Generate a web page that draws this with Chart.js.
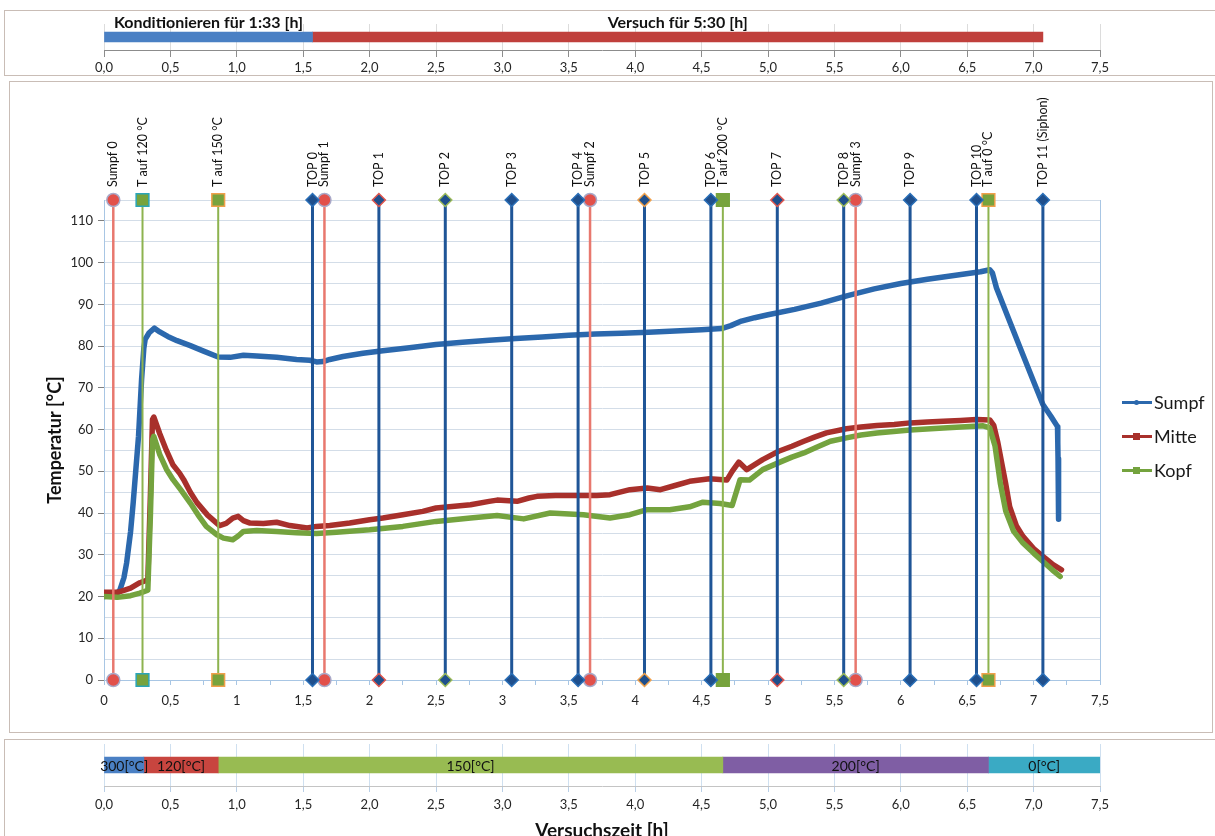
<!DOCTYPE html>
<html><head><meta charset="utf-8">
<script src="https://cdn.jsdelivr.net/npm/chart.js@4.4.1/dist/chart.umd.min.js"></script>
<style>
html,body{margin:0;padding:0;background:#fff;overflow:hidden;width:1215px;height:836px;}
.panel{position:absolute;border:1px solid #c9bdb6;background:#fff;overflow:hidden;}
canvas{display:block;}
#legend{position:absolute;left:1122px;top:390px;font-family:Lato,'Open Sans',sans-serif;font-size:18px;color:#1a1a1a;}
.li{position:relative;height:34px;width:90px;}
.li .ln{position:absolute;left:0;top:11px;width:30px;height:3px;}
.li .mk{position:absolute;left:11px;top:9px;width:7px;height:7px;}
.li span{position:absolute;left:32px;top:0;line-height:24px;}
</style></head>
<body>
<div class="panel" style="left:4px;top:10px;width:1220px;height:64px;"><canvas id="topC" width="1220" height="64"></canvas></div>
<div class="panel" style="left:9px;top:81px;width:1202px;height:650px;"><canvas id="mainC" width="1202" height="650"></canvas></div>
<div class="panel" style="left:4px;top:739px;width:1220px;height:110px;"><canvas id="botC" width="1220" height="110"></canvas></div>
<div id="legend"></div>
<script>
// ---------- DATA ----------
const phaseLabels = ['Konditionieren für 1:33 [h]', 'Versuch für 5:30 [h]'];
const phaseStart = [0, 1.57];
const phaseEnd = [1.57, 7.07];

const stageLabels = ['300[°C]', '120[°C]', '150[°C]', '200[°C]', '0[°C]'];
const stageStart = [0, 0.3, 0.86, 4.66, 6.66];
const stageEnd = [0.3, 0.86, 4.66, 6.66, 7.5];

const markerLabels = ['Sumpf 0','T auf 120 °C','T auf 150 °C','TOP 0','Sumpf 1','TOP 1','TOP 2','TOP 3','TOP 4','Sumpf 2','TOP 5','TOP 6','T auf 200 °C','TOP 7','TOP 8','Sumpf 3','TOP 9','TOP 10','T auf 0 °C','TOP 11 (Siphon)'];
const markerTimes = [0.07, 0.29, 0.86, 1.57, 1.66, 2.07, 2.57, 3.07, 3.57, 3.66, 4.07, 4.57, 4.66, 5.07, 5.57, 5.66, 6.07, 6.57, 6.66, 7.07];
const markerRange = [0, 115];

const sumpfTime = [0,0.05,0.1,0.12,0.15,0.17,0.2,0.22,0.24,0.26,0.283,0.3,0.31,0.34,0.38,0.42,0.48,0.55,0.65,0.75,0.86,0.95,1.05,1.15,1.3,1.45,1.55,1.6,1.65,1.7,1.8,1.95,2.1,2.3,2.5,2.7,2.9,3.1,3.3,3.5,3.7,3.9,4.1,4.3,4.5,4.65,4.72,4.8,4.9,5.0,5.2,5.4,5.6,5.8,6.0,6.2,6.4,6.6,6.67,6.69,6.72,6.8,6.9,7.0,7.07,7.13,7.18,7.182,7.184,7.186,7.188,7.19];
const sumpfTemp = [20,20.2,20.8,21.6,24.5,28,35.5,42.5,50.5,58.4,72,79.5,81.6,83.2,84.3,83.4,82.3,81.3,80.1,78.8,77.4,77.3,77.8,77.6,77.3,76.8,76.6,76.2,76.3,76.8,77.5,78.3,78.9,79.6,80.4,80.9,81.4,81.8,82.2,82.6,82.9,83.1,83.3,83.6,83.9,84.2,84.9,86.0,86.8,87.5,88.8,90.3,92.1,93.7,95.0,96.0,96.9,97.8,98.3,97.5,94.0,87.5,79.5,71.5,66.0,63.2,60.7,57,53,48.5,43,38.5];

const mitteTime = [0,0.1,0.15,0.2,0.27,0.33,0.35,0.365,0.375,0.42,0.47,0.52,0.57,0.6,0.65,0.7,0.78,0.87,0.92,0.97,1.01,1.05,1.1,1.2,1.3,1.4,1.53,1.6,1.7,1.85,2.0,2.1,2.25,2.4,2.5,2.6,2.76,2.9,2.96,3.11,3.2,3.26,3.4,3.51,3.71,3.81,3.96,4.09,4.19,4.3,4.41,4.56,4.69,4.73,4.78,4.84,4.96,5.08,5.18,5.27,5.35,5.44,5.59,5.7,5.82,5.95,6.07,6.2,6.32,6.45,6.57,6.67,6.7,6.73,6.76,6.79,6.82,6.87,6.92,7.0,7.07,7.14,7.21];
const mitteTemp = [21,21,21.5,22,23.3,24,45,62.4,63,59,55,51.5,49.5,48,45,42.5,39.5,37,37.5,38.8,39.2,38.2,37.6,37.5,37.8,37.0,36.4,36.8,37.0,37.6,38.4,38.8,39.6,40.4,41.2,41.5,42.0,42.8,43.1,42.8,43.6,44.0,44.2,44.2,44.2,44.4,45.6,46.0,45.6,46.6,47.6,48.2,47.9,50,52.2,50.4,52.8,54.8,56,57.2,58.2,59.2,60.2,60.6,61.0,61.2,61.6,61.8,62.0,62.2,62.4,62.3,61,57,52,47,41.5,37,34.4,31.5,29.6,27.8,26.4];

const kopfTime = [0,0.1,0.2,0.27,0.33,0.35,0.365,0.375,0.42,0.47,0.52,0.58,0.65,0.72,0.77,0.85,0.9,0.97,1.01,1.05,1.15,1.3,1.45,1.6,1.75,2.0,2.25,2.5,2.76,2.96,3.16,3.36,3.61,3.81,3.96,4.09,4.26,4.41,4.51,4.64,4.73,4.79,4.86,4.96,5.09,5.18,5.27,5.37,5.47,5.59,5.7,5.82,6.07,6.32,6.62,6.67,6.71,6.75,6.79,6.85,6.92,7.0,7.07,7.14,7.2];
const kopfTemp = [20,19.8,20.2,20.8,21.5,40,57.5,58.4,54,50.5,48,45.5,42.4,39,36.8,34.8,34,33.6,34.5,35.6,35.8,35.6,35.3,35.1,35.4,36.0,36.8,38.0,38.8,39.4,38.6,40.0,39.6,38.8,39.6,40.8,40.8,41.5,42.6,42.3,41.8,48.0,47.9,50.4,52.2,53.4,54.4,55.8,57.2,58.0,58.7,59.2,59.9,60.4,60.9,60.4,56,47,40.5,35.6,32.8,30.4,28.4,26.4,24.8];

const seriesNames = ['Sumpf', 'Mitte', 'Kopf'];

// ---------- STYLES ----------
const FONT = "Lato, 'Open Sans', sans-serif";
Chart.defaults.font.family = FONT;
Chart.defaults.color = '#262626';
const seriesColors = {Sumpf:'#2b68ad', Mitte:'#a8302b', Kopf:'#74a33e'};
const phaseColors = ['#4a80c4', '#c0403c'];
const stageColors = ['#4a80c4', '#c8453f', '#98bb52', '#7f5ea4', '#3aaac4'];
const kindStyle = {
  sumpf: {line:'#e8786e', lw:2.5, shape:'circle', r:6.5, fill:'#e2504a', edge:'#a9a9c9'},
  t:     {line:'#8db34f', lw:2,   shape:'rect',   r:9,   fill:'#77a33d', edge:'#77a33d'},
  top:   {line:'#1f5597', lw:3,   shape:'rectRot',r:6.5, fill:'#1f4f8c', edge:'#2a6fb8'}
};
const edgeOverride = {'TOP 1':'#e0554d','TOP 2':'#9bbb59','TOP 5':'#f0a04a','TOP 7':'#e0554d','TOP 8':'#9bbb59','T auf 120 °C':'#2aa5b8','T auf 150 °C':'#f0a04a','T auf 0 °C':'#f0a04a'};
function kindOf(l){ return l.startsWith('Sumpf') ? 'sumpf' : (l.startsWith('TOP') ? 'top' : 't'); }
const fmt1 = v => v.toFixed(1).replace('.', ',');

// ---------- TOP CHART ----------
function barLabelPlugin(mode) {
  return { id: 'barLabels_' + mode, afterDatasetsDraw(chart) {
    const ctx = chart.ctx; ctx.save();
    ctx.fillStyle = '#111'; ctx.textAlign = 'center';
    chart.data.datasets.forEach((ds, i) => {
      const el = chart.getDatasetMeta(i).data[0];
      const cx = (el.x + el.base) / 2;
      if (mode === 'above') {
        ctx.font = 'bold 16px ' + FONT; ctx.textBaseline = 'bottom';
        ctx.fillText(ds.label, cx, el.y - el.height / 2 - 1);
      } else {
        ctx.font = '14px ' + FONT; ctx.textBaseline = 'middle';
        ctx.fillText(ds.label, cx, el.y + 1);
      }
    });
    ctx.restore();
  }};
}

new Chart(document.getElementById('topC'), {
  type: 'bar',
  data: { labels: [''], datasets: phaseLabels.map((l, i) => ({
    label: l, data: [[phaseStart[i], phaseEnd[i]]], backgroundColor: phaseColors[i], barThickness: 10, grouped: false
  }))},
  options: {
    indexAxis: 'y', animation: false, responsive: false,
    layout: { padding: { left: 99, right: 125, top: 13, bottom: 0 } },
    plugins: { legend: { display: false }, tooltip: { enabled: false } },
    scales: {
      x: { type: 'linear', min: 0, max: 7.5,
        ticks: { stepSize: 0.5, autoSkip: false, maxRotation: 0, padding: 3, font: { size: 13 }, color: '#262626', callback: v => fmt1(v) },
        grid: { color: '#dcdcdc', tickColor: '#8c8c8c', tickLength: 7 },
        border: { color: '#8c8c8c' },
        afterFit: s => { s.height = 25; } },
      y: { display: false }
    }
  },
  plugins: [barLabelPlugin('above')]
});

// ---------- MAIN CHART ----------
const markerLabelPlugin = { id: 'markerLabels', afterDatasetsDraw(chart) {
  const ctx = chart.ctx, xs = chart.scales.x, ys = chart.scales.y;
  ctx.save();
  ctx.font = '12.5px ' + FONT; ctx.fillStyle = '#111';
  ctx.textAlign = 'left'; ctx.textBaseline = 'middle';
  markerLabels.forEach((lab, i) => {
    const px = xs.getPixelForValue(markerTimes[i]);
    const py = ys.getPixelForValue(markerRange[1]) - 13;
    ctx.save(); ctx.translate(px, py); ctx.rotate(-Math.PI / 2); ctx.fillText(lab, 0, 0); ctx.restore();
  });
  ctx.restore();
}};

const markerSets = markerLabels.map((lab, i) => {
  const st = kindStyle[kindOf(lab)];
  return {
    label: lab, data: markerRange.map(v => ({ x: markerTimes[i], y: v })),
    borderColor: st.line, borderWidth: st.lw, pointStyle: st.shape, pointRadius: st.r,
    pointBackgroundColor: st.fill, pointBorderColor: edgeOverride[lab] || st.edge, pointBorderWidth: 1.5,
    clip: false, order: 0, tension: 0
  };
});
const seriesTimes = [sumpfTime, mitteTime, kopfTime];
const seriesTemps = [sumpfTemp, mitteTemp, kopfTemp];
const seriesSets = seriesNames.map((n, k) => ({
  label: n, data: seriesTimes[k].map((t, j) => ({ x: t, y: seriesTemps[k][j] })),
  borderColor: seriesColors[n], backgroundColor: seriesColors[n], borderWidth: 5.5, pointRadius: 0,
  borderJoinStyle: 'round', borderCapStyle: 'round', tension: 0, order: 3 - k
}));

new Chart(document.getElementById('mainC'), {
  type: 'line',
  data: { datasets: markerSets.concat(seriesSets) },
  options: {
    animation: false, responsive: false,
    layout: { padding: { left: 0, right: 112, top: 118, bottom: 0 } },
    plugins: { legend: { display: false }, tooltip: { enabled: false } },
    scales: {
      x: { type: 'linear', min: 0, max: 7.5,
        ticks: { stepSize: 0.25, autoSkip: false, maxRotation: 0, padding: 8, font: { size: 13 }, color: '#262626',
          callback: v => (Math.abs(v * 2 - Math.round(v * 2)) < 1e-9) ? String(Math.round(v * 2) / 2).replace('.', ',') : '' },
        grid: { color: c => (c.tick && Math.abs(c.tick.value - 7.5) < 1e-9) ? '#a8c6e4' : 'rgba(0,0,0,0)', tickColor: '#a8c6e4', tickLength: 5 },
        border: { color: '#a8c6e4' },
        afterFit: s => { s.height = 52; } },
      y: { min: 0, max: 115,
        ticks: { stepSize: 5, autoSkip: false, padding: 5, font: { size: 13 }, color: '#262626',
          callback: v => (v % 10 === 0 && v <= 110) ? String(v) : '' },
        grid: { color: '#d3dde8', tickLength: 6,
          tickColor: c => (c.tick && c.tick.value % 10 === 0 && c.tick.value <= 110) ? '#7f7f7f' : 'rgba(0,0,0,0)' },
        border: { color: '#a8c6e4' },
        title: { display: true, text: 'Temperatur [°C]', font: { size: 18, weight: 'bold' }, color: '#111', padding: { top: 34, bottom: 0 } },
        afterFit: s => { s.width = 94; } }
    }
  },
  plugins: [markerLabelPlugin]
});

// ---------- BOTTOM CHART ----------
new Chart(document.getElementById('botC'), {
  type: 'bar',
  data: { labels: [''], datasets: stageLabels.map((l, i) => ({
    label: l, data: [[stageStart[i], stageEnd[i]]], backgroundColor: stageColors[i], barThickness: 16, grouped: false
  }))},
  options: {
    indexAxis: 'y', animation: false, responsive: false,
    layout: { padding: { left: 99, right: 125, top: 4, bottom: 0 } },
    plugins: { legend: { display: false }, tooltip: { enabled: false } },
    scales: {
      x: { type: 'linear', min: 0, max: 7.5,
        ticks: { stepSize: 0.5, autoSkip: false, maxRotation: 0, padding: 5, font: { size: 13 }, color: '#262626', callback: v => fmt1(v) },
        grid: { color: '#cfe0f0', tickColor: '#b9cfe6', tickLength: 6 },
        border: { color: '#c4c4c4' },
        title: { display: true, text: 'Versuchszeit [h]', font: { size: 19, weight: 'bold' }, color: '#111', padding: { top: 0, bottom: 8 } },
        afterFit: s => { s.height = 64; } },
      y: { display: false }
    }
  },
  plugins: [barLabelPlugin('inside')]
});

// ---------- LEGEND ----------
const lg = document.getElementById('legend');
seriesNames.forEach(n => {
  const d = document.createElement('div'); d.className = 'li';
  const ln = document.createElement('div'); ln.className = 'ln'; ln.style.background = seriesColors[n];
  const mk = document.createElement('div'); mk.className = 'mk'; mk.style.background = seriesColors[n];
  if (n === 'Sumpf') { mk.style.borderRadius = '50%'; mk.style.width = '5px'; mk.style.height = '5px'; mk.style.left = '12px'; mk.style.top = '10px'; }
  const sp = document.createElement('span'); sp.textContent = n;
  d.appendChild(ln); d.appendChild(mk); d.appendChild(sp); lg.appendChild(d);
});
</script>
</body></html>
